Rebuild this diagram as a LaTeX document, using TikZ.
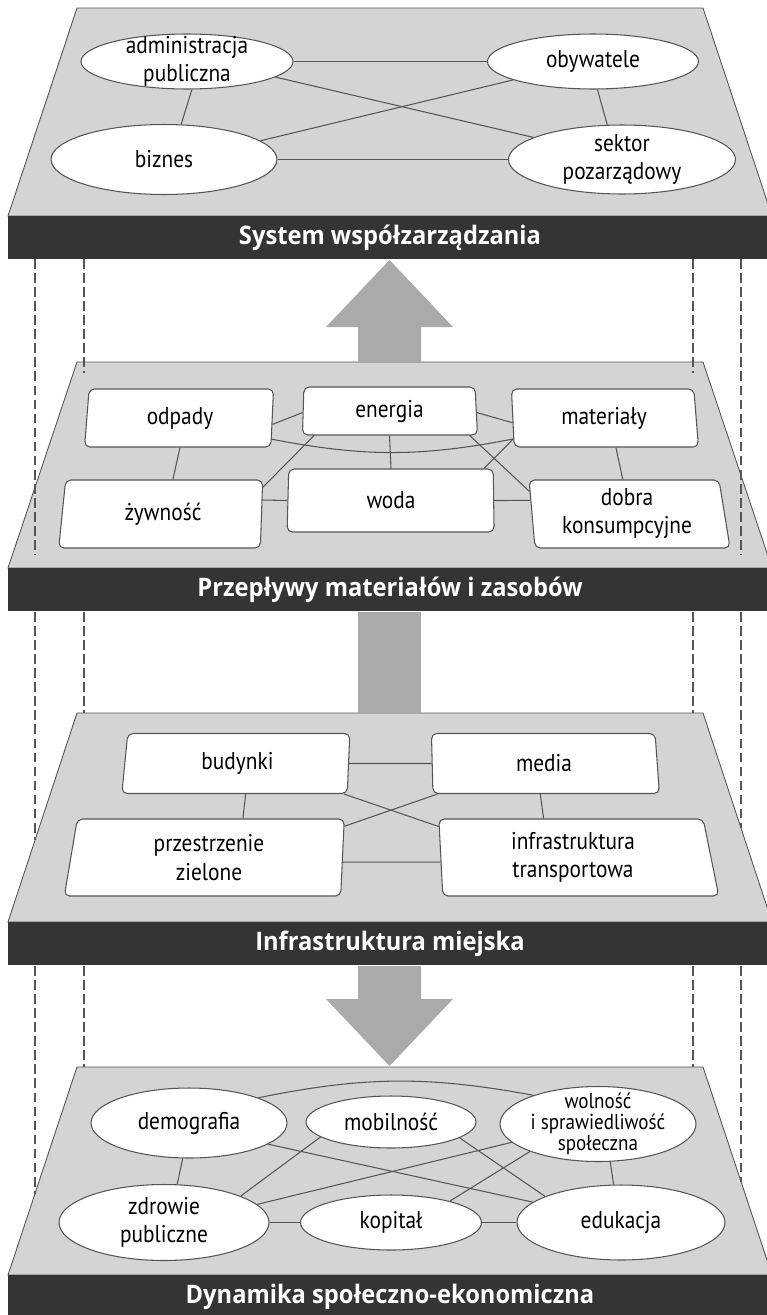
\documentclass[tikz,border=0pt]{standalone}
\usepackage{fontspec}
\setmainfont{PT Sans}[FakeStretch=0.88]
\newfontfamily\bandfont{Open Sans}[FakeStretch=0.93]
\usetikzlibrary{shapes.geometric}
\definecolor{planegray}{RGB}{212,212,212}
\definecolor{bandgray}{RGB}{52,52,52}
\definecolor{arrowgray}{RGB}{170,170,170}
\definecolor{edgegray}{RGB}{85,85,85}
\newcommand{\nodefont}{\fontsize{13.8}{16}\selectfont}
\tikzset{actor/.style 2 args={ellipse,draw=edgegray,fill=white,line width=0.6pt,inner sep=-4pt,minimum width=#1,minimum height=#2,align=center,font=\nodefont},
		flow/.style n args={4}{trapezium,trapezium left angle=#1,trapezium right angle=#2,trapezium stretches body,minimum width=#3,minimum height=#4,draw=edgegray,fill=white,line width=0.6pt,rounded corners=3pt,inner sep=0pt,align=center,font=\nodefont},
		link/.style={draw=edgegray,line width=0.6pt}}

\begin{document}
\begin{tikzpicture}[x=0.02cm,y=-0.02cm,
		plane/.style={fill=planegray,draw=edgegray,line width=0.5pt},
		band/.style={fill=bandgray},
		bandtext/.style={text=white,font=\bandfont\bfseries\fontsize{14.5}{17}\selectfont},
		guide/.style={draw=edgegray,line width=0.6pt,dash pattern=on 5.5pt off 2.5pt},
		bigarrow/.style={fill=arrowgray}]
	\path[use as bounding box,fill=white] (0,0) rectangle (767,1315);
	% the four layers
	\foreach \ya/\yb/\lbl [count=\i] in {8/216/{System współzarządzania},362/568/{Przepływy materiałów i zasobów},713/922/{Infrastruktura miejska},1067/1275/{Dynamika społeczno-ekonomiczna}}{
		\draw[plane] (77,\ya) -- (703,\ya) -- (772,\yb) -- (8,\yb) -- cycle;
		\fill[band] (8,\yb) rectangle (772,{\yb+43});
		\node[bandtext] (band\i) at (390,{\yb+21.5}) {\lbl};
	}
	% dashed guides
	\draw[guide] (35,259) -- (35,555) (84,259) -- (84,373) (693,259) -- (693,373) (741,259) -- (741,555);
	\draw[guide] (35,612) -- (35,840) (84,612) -- (84,713) (693,612) -- (693,713) (741,612) -- (741,828);
	\draw[guide] (35,966) -- (35,1194) (84,966) -- (84,1067) (693,966) -- (693,1067) (741,966) -- (741,1182);
	% big arrows
	\fill[bigarrow] (389.5,260) -- (453,327) -- (421,327) -- (421,362) -- (358,362) -- (358,327) -- (326,327) -- cycle;
	\fill[bigarrow] (358,612) rectangle (421,713);
	\fill[bigarrow] (358,966) -- (421,966) -- (421,999) -- (453,999) -- (389.5,1066) -- (326,999) -- (358,999) -- cycle;

	% governance
	\node[actor={4.24cm}{1.10cm}] (admin) at (187,61.5) {administracja\\publiczna};
	\node[actor={4.22cm}{1.10cm}] (citizens) at (593,61.5) {obywatele};
	\node[actor={4.52cm}{1.40cm}] (business) at (164,159.5) {biznes};
	\node[actor={4.54cm}{1.38cm}] (ngo) at (622,159.5) {sektor\\pozarządowy};
	\draw[link] (admin.east) -- (citizens.west);
	\draw[link] (business.east) -- (ngo.west);
	\draw[link] (admin.-80) -- (business.64);
	\draw[link] (citizens.-81) -- (ngo.113);
	\draw[link] (admin.-10) -- (ngo.166);
	\draw[link] (business.11) -- (citizens.-167);

	% flows
	\node[flow={78.3}{96.9}{3.78cm}{1.16cm}] (waste) at (180,418) {odpady};
	\node[flow={72.8}{95.9}{4.08cm}{1.36cm}] (food) at (163,514) {żywność};
	\node[flow={86.4}{84}{3.50cm}{0.96cm}] (energy) at (389.5,411) {energia};
	\node[flow={84.6}{87.3}{4.14cm}{1.26cm}] (water) at (391,500.5) {woda};
	\node[flow={96.9}{78.3}{3.74cm}{1.16cm}] (materials) at (604,418) {materiały};
	\node[flow={96.7}{77.6}{4.02cm}{1.36cm}] (goods) at (627,514) {dobra\\konsumpcyjne};
	\draw[link] (waste.-90) -- (food.74);
	\draw[link] (materials.-68) -- (goods.97);
	\draw[link] (waste.-4) -- (energy.181);
	\draw[link] (energy.-1) -- (materials.183);
	\draw[link] (waste.-13) to[bend right=11] (materials.193);
	\draw[link] (energy.south) -- (water.north);
	\draw[link] (energy.198) -- (food.15);
	\draw[link] (energy.-17) -- (goods.167);
	\draw[link] (materials.193) -- (water.19);
	\draw[link] (food.8) -- (water.180);
	\draw[link] (water.0) -- (goods.172);

	% infrastructure
	\node[flow={75.1}{96.6}{4.56cm}{1.20cm}] (buildings) at (237.5,763.5) {budynki};
	\node[flow={74.1}{94.5}{5.60cm}{1.54cm}] (green) at (209,857.5) {przestrzenie\\zielone};
	\node[flow={94.8}{76}{4.56cm}{1.20cm}] (utilities) at (544,763.5) {media};
	\node[flow={94.5}{72.7}{5.60cm}{1.54cm}] (transport) at (573,857.5) {infrastruktura\\transportowa};
	\draw[link] (buildings.0) -- (utilities.180);
	\draw[link] (green.-2) -- (transport.182);
	\draw[link] (buildings.-75) -- (green.49);
	\draw[link] (utilities.-97) -- (transport.127);
	\draw[link] (buildings.-16) -- (transport.167);
	\draw[link] (green.13) -- (utilities.196);

	% socio-economic dynamics
	\node[actor={3.92cm}{1.40cm}] (demography) at (189,1123) {demografia};
	\node[actor={3.40cm}{1.04cm}] (mobility) at (391,1122) {mobilność};
	\node[actor={3.92cm}{1.50cm},font=\fontsize{12.3}{12}\selectfont] (freedom) at (598,1124) {wolność\\i sprawiedliwość\\społeczna};
	\node[actor={4.20cm}{1.52cm}] (health) at (164,1222.5) {zdrowie\\publiczne};
	\node[actor={3.62cm}{1.10cm}] (capital) at (391,1222.5) {kopitał};
	\node[actor={4.16cm}{1.50cm}] (education) at (621,1222.5) {edukacja};
	\draw[link] (demography.20) to[bend left=11] (freedom.156);
	\draw[link] (demography.-100) -- (health.71);
	\draw[link] (freedom.-72) -- (education.101);
	\draw[link] (health.0) -- (capital.180);
	\draw[link] (capital.0) -- (education.180);
	\draw[link] (demography.-15) -- (education.167);
	\draw[link] (mobility.192) -- (health.19);
	\draw[link] (freedom.192) -- (health.11);
	\draw[link] (mobility.-13) -- (education.161);
	\draw[link] (freedom.202) -- (capital.20);
\end{tikzpicture}
\end{document}
